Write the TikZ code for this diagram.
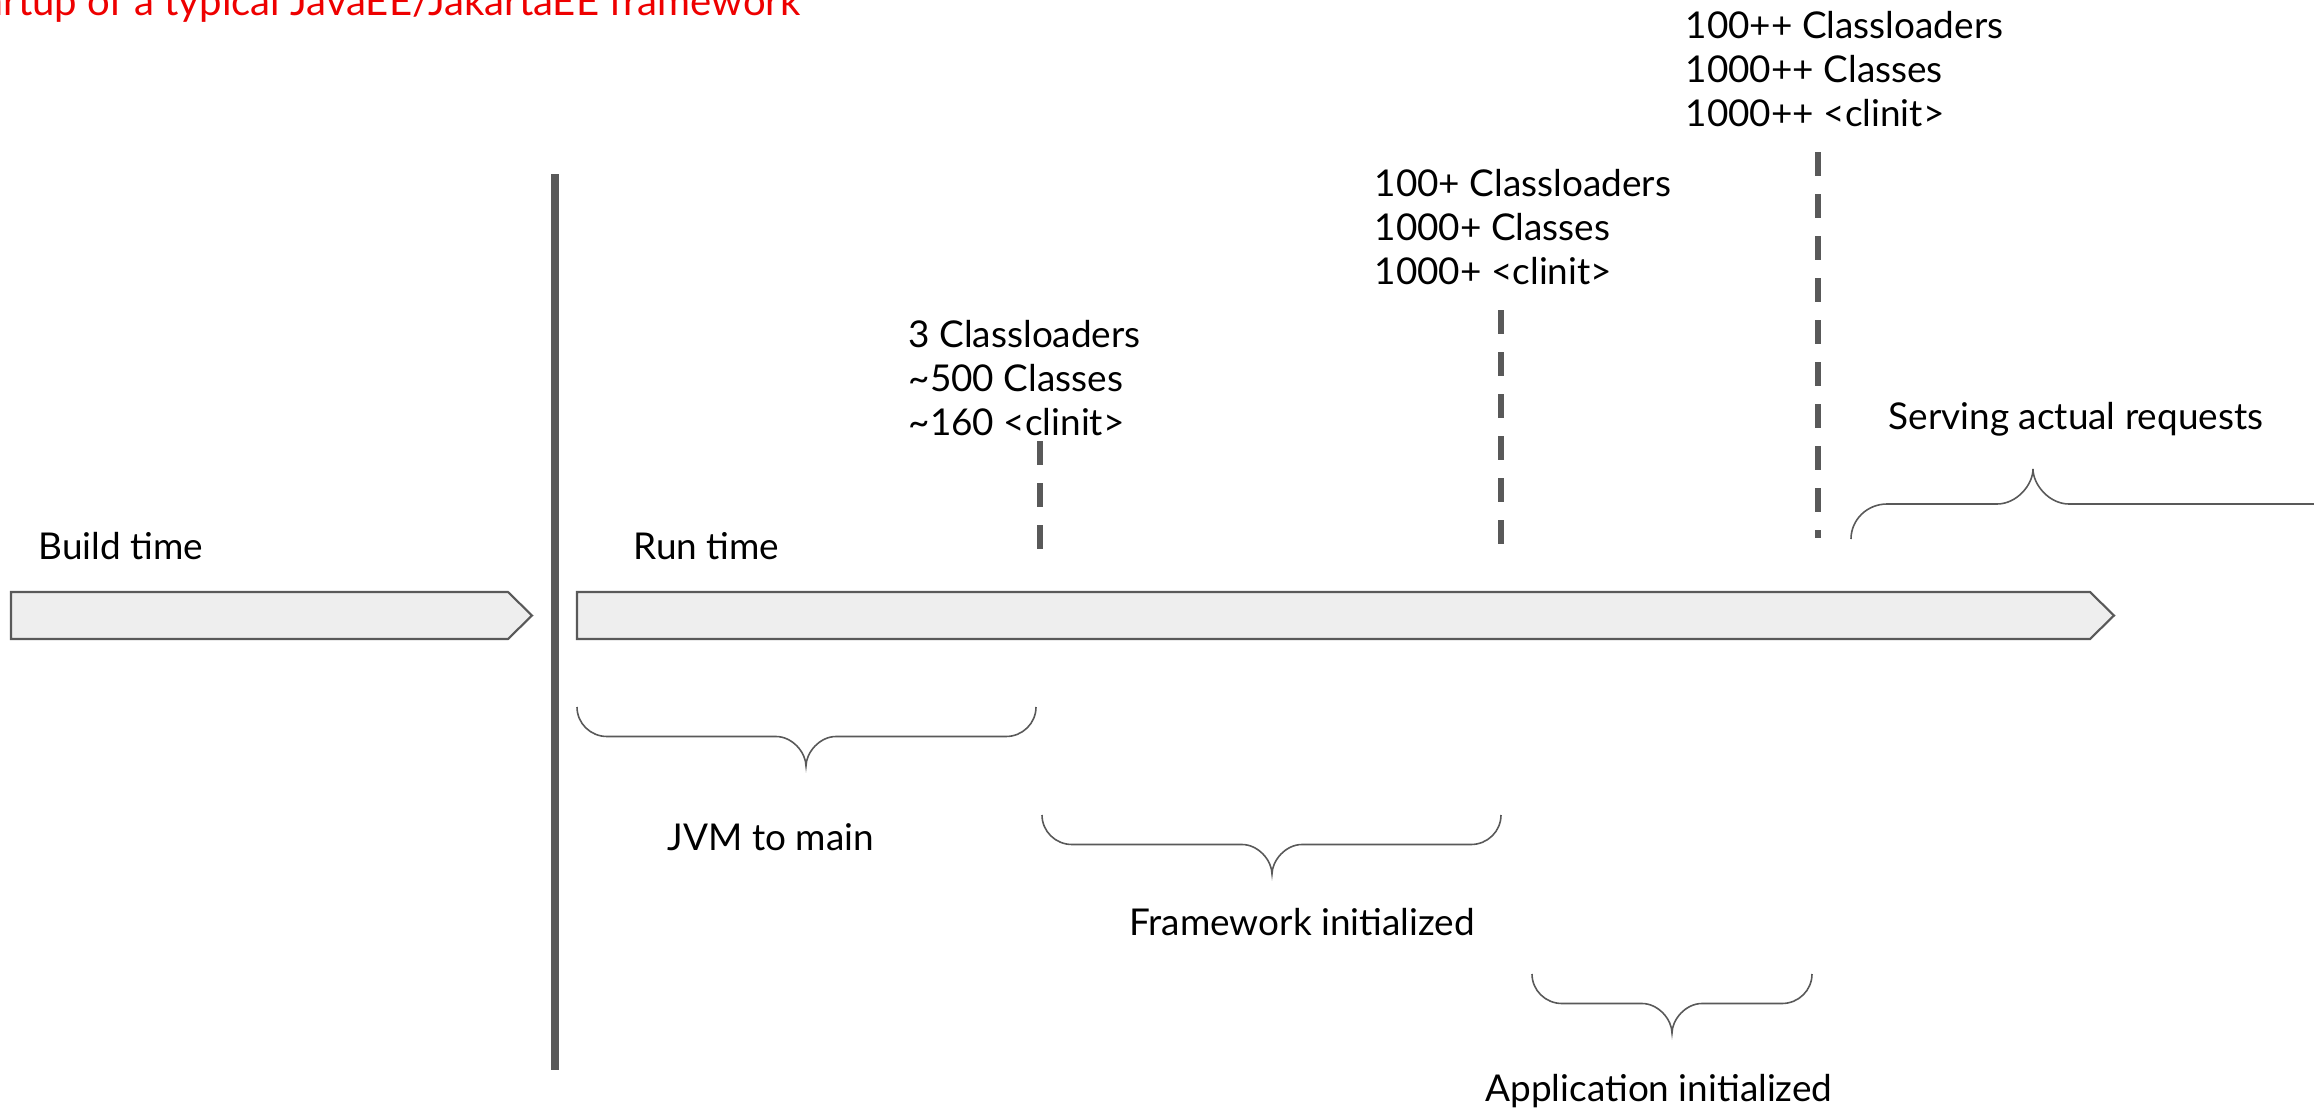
\documentclass[tikz,border=0pt]{standalone}
\usepackage{fontspec}
\setmainfont{Lato}
\definecolor{linegray}{HTML}{595959}
\definecolor{barfill}{HTML}{EEEEEE}
\definecolor{titlered}{HTML}{EE0000}

% curly brace: left x, middle x, right x, end y, horizontal radius, signed vertical radius
\newcommand\spanbrace[6]{%
  \draw[brace] ({#1},{#4}) .. controls ({#1},{#4+0.552*#6}) and ({#1+0.448*#5},{#4+#6}) .. ({#1+#5},{#4+#6})
    -- ({#2-#5},{#4+#6}) .. controls ({#2-0.448*#5},{#4+#6}) and ({#2},{#4+1.552*#6}) .. ({#2},{#4+2*#6})
    .. controls ({#2},{#4+1.552*#6}) and ({#2+0.448*#5},{#4+#6}) .. ({#2+#5},{#4+#6})
    -- ({#3-#5},{#4+#6}) .. controls ({#3-0.448*#5},{#4+#6}) and ({#3},{#4+0.552*#6}) .. ({#3},{#4});}

\begin{document}
\begin{tikzpicture}[x=0.01cm,y=-0.01cm,
  lbl/.style={inner sep=0pt, font=\fontsize{10.5}{12.6}\selectfont, text=black},
  stat/.style={lbl, align=left, anchor=west},
  bar/.style={draw=linegray, fill=barfill, line width=0.6pt},
  divider/.style={draw=linegray, line width=2pt},
  marker/.style={draw=linegray, line width=1.7pt, dash pattern=on 6.83pt off 5.12pt},
  brace/.style={draw=linegray, line width=0.45pt}]
\useasboundingbox (0,0) rectangle (2314,1112);
\fill[white] (0,0) rectangle (2314,1112);

% heading, partly beyond the page edge
\node[anchor=base east, inner sep=0pt, text=titlered, font=\fontsize{11.4}{13.5}\selectfont] (title) at (801,15) {Startup of a typical JavaEE/JakartaEE framework};

% build-time and run-time bars
\draw[bar] (11,592) -- (508,592) -- (532,615.5) -- (508,639) -- (11,639) -- cycle;
\draw[bar] (577,592) -- (2090,592) -- (2114,615.5) -- (2090,639) -- (577,639) -- cycle;
\node[lbl, anchor=west] (build) at (38,546) {Build time};
\node[lbl, anchor=west] (run) at (633,546) {Run time};

% separator between build and run time
\coordinate (sepTop) at (555,174);
\coordinate (sepBot) at (555,1070);
\draw[divider] (sepTop) -- (sepBot);

% milestone markers
\coordinate (m1Top) at (1040,441); \coordinate (m1Bot) at (1040,549);
\coordinate (m2Top) at (1501,310); \coordinate (m2Bot) at (1501,544);
\coordinate (m3Top) at (1818,152); \coordinate (m3Bot) at (1818,538);
\draw[marker] (m1Top) -- (m1Bot);
\draw[marker] (m2Top) -- (m2Bot);
\draw[marker] (m3Top) -- (m3Bot);

% class loading figures at each milestone
\node[stat] (s1) at (908,378) {3 Classloaders\\{\char"7E}500 Classes\\{\char"7E}160 <clinit>};
\node[stat] (s2) at (1374,227) {100+ Classloaders\\1000+ Classes\\1000+ <clinit>};
\node[stat] (s3) at (1685,69) {100++ Classloaders\\1000++ Classes\\1000++ <clinit>};

% phases
\spanbrace{577}{806}{1036}{707}{30}{29.5}
\node[lbl] (p1) at (771,837) {JVM to main};
\spanbrace{1042}{1272}{1501}{815}{30}{29.5}
\node[lbl] (p2) at (1302,922) {Framework initialized};
\spanbrace{1532}{1672}{1812}{974}{30}{29.5}
\node[lbl] (p3) at (1659,1091) {Application initialized};
\spanbrace{1851}{2033}{2500}{539}{36}{-35}
\node[lbl, anchor=west] (p4) at (1888,419) {Serving actual requests};
\end{tikzpicture}
\end{document}
